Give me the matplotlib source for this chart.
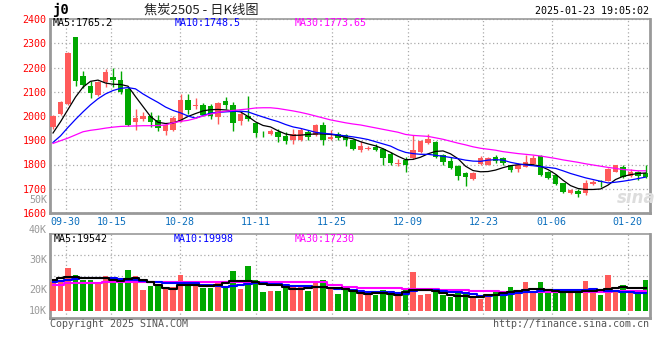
import numpy as np
import matplotlib
matplotlib.use("Agg")
import matplotlib.pyplot as plt
import matplotlib.transforms as mtransforms

# j2505 daily K, 2024-09-26 .. 2025-01-23 (80 trading days)
opens = [1955, 2010, 2050, 2324, 2163, 2122, 2088, 2142, 2162, 2150,
         2112, 1977, 1986, 1998, 1985, 1940, 1943, 1980, 2064, 2040,
         2045, 2042, 1997, 2061, 2047, 1978, 2002, 1972, 1931, 1924,
         1936, 1917, 1902, 1902, 1933, 1923, 1963, 1905, 1927, 1922,
         1899, 1859, 1864, 1873, 1862, 1842, 1804, 1820, 1825, 1852,
         1889, 1893, 1838, 1815, 1794, 1765, 1740, 1804, 1800, 1829,
         1828, 1797, 1780, 1790, 1801, 1834, 1770, 1756, 1722, 1682,
         1690, 1684, 1719, 1733, 1733, 1770, 1790, 1752, 1770, 1763]
closes = [2000, 2057, 2258, 2145, 2128, 2094, 2142, 2180, 2147, 2098,
          1961, 1990, 1998, 1975, 1952, 1962, 1992, 2068, 2026, 2047,
          2003, 1998, 2053, 2044, 1972, 2008, 1987, 1930, 1929, 1938,
          1914, 1897, 1924, 1942, 1914, 1963, 1900, 1912, 1909, 1903,
          1865, 1875, 1866, 1860, 1825, 1806, 1808, 1797, 1859, 1897,
          1907, 1831, 1811, 1786, 1753, 1749, 1765, 1827, 1826, 1814,
          1805, 1778, 1800, 1811, 1827, 1756, 1743, 1720, 1686, 1694,
          1677, 1722, 1728, 1729, 1783, 1797, 1750, 1770, 1752, 1748]
highs = [2003, 2061, 2262, 2326, 2187, 2146, 2145, 2195, 2197, 2184,
         2118, 2030, 2016, 2016, 2006, 1965, 1998, 2090, 2092, 2074,
         2052, 2050, 2057, 2077, 2057, 2015, 2084, 1975, 1940, 1948,
         1946, 1932, 1945, 1950, 1944, 1966, 1975, 1941, 1933, 1926,
         1904, 1897, 1878, 1886, 1866, 1852, 1824, 1829, 1920, 1902,
         1924, 1897, 1842, 1829, 1798, 1770, 1768, 1835, 1829, 1838,
         1831, 1800, 1808, 1838, 1840, 1838, 1772, 1760, 1725, 1697,
         1701, 1735, 1735, 1738, 1786, 1800, 1800, 1780, 1775, 1797]
lows = [1945, 2005, 2045, 2122, 2116, 2075, 2082, 2120, 2120, 2091,
        1958, 1943, 1978, 1955, 1940, 1923, 1940, 1975, 2010, 2030,
        1998, 1986, 1968, 2030, 1938, 1962, 1978, 1913, 1914, 1921,
        1893, 1885, 1886, 1898, 1903, 1918, 1882, 1900, 1900, 1876,
        1859, 1852, 1858, 1856, 1798, 1800, 1793, 1770, 1822, 1848,
        1885, 1826, 1798, 1780, 1735, 1712, 1735, 1800, 1797, 1806,
        1800, 1770, 1770, 1788, 1798, 1752, 1740, 1715, 1683, 1678,
        1667, 1674, 1715, 1708, 1730, 1768, 1745, 1748, 1738, 1745]

ma5 = [1930, 1976, 2027, 2078, 2119, 2143, 2148, 2136, 2131, 2130,
       2123, 2080, 2039, 1998, 1974, 1969, 1971, 1982, 1998, 2010,
       2021, 2026, 2027, 2025, 2021, 2017, 1998, 1976, 1961, 1955,
       1939, 1926, 1920, 1921, 1924, 1926, 1926, 1924, 1920, 1912,
       1906, 1894, 1885, 1877, 1865, 1850, 1834, 1820, 1821, 1830,
       1844, 1854, 1856, 1844, 1824, 1793, 1775, 1770, 1771, 1777,
       1787, 1795, 1799, 1801, 1799, 1793, 1779, 1760, 1735, 1713,
       1701, 1697, 1697, 1699, 1715, 1738, 1751, 1758, 1763, 1765]
ma10 = [1891, 1918, 1953, 1986, 2017, 2046, 2071, 2091, 2105, 2114,
        2117, 2112, 2091, 2073, 2056, 2037, 2023, 2013, 2000, 1991,
        2002, 2012, 2015, 2017, 2019, 2020, 2017, 2006, 1996, 1986,
        1977, 1965, 1955, 1949, 1941, 1933, 1929, 1926, 1922, 1918,
        1914, 1909, 1903, 1894, 1885, 1876, 1861, 1850, 1845, 1842,
        1842, 1838, 1834, 1829, 1824, 1818, 1814, 1813, 1818, 1820,
        1818, 1809, 1803, 1798, 1795, 1791, 1788, 1784, 1774, 1763,
        1754, 1745, 1738, 1731, 1724, 1727, 1731, 1736, 1742, 1748]
ma30 = [1887, 1898, 1909, 1922, 1935, 1941, 1945, 1950, 1954, 1957,
        1958, 1959, 1960, 1960, 1961, 1963, 1972, 1978, 1982, 1990,
        2000, 2008, 2015, 2020, 2023, 2026, 2029, 2033, 2034, 2034,
        2031, 2026, 2021, 2015, 2008, 2000, 1992, 1984, 1978, 1972,
        1967, 1963, 1957, 1951, 1945, 1939, 1933, 1924, 1920, 1918,
        1916, 1910, 1904, 1896, 1888, 1881, 1873, 1867, 1863, 1859,
        1853, 1849, 1845, 1842, 1839, 1835, 1830, 1825, 1819, 1814,
        1809, 1803, 1798, 1793, 1788, 1784, 1779, 1777, 1774, 1774]

# volume, thousand lots
vol = [22.8, 23.3, 27.4, 25.0, 23.3, 23.3, 22.2, 24.7, 22.8, 22.8,
       26.7, 24.7, 20.0, 21.3, 21.3, 20.3, 20.9, 25.0, 21.9, 21.4,
       20.8, 20.8, 23.0, 20.8, 26.3, 20.3, 28.0, 23.3, 19.2, 19.7,
       19.7, 21.4, 21.0, 21.0, 19.7, 22.4, 23.3, 20.3, 18.7, 20.6,
       19.7, 19.7, 18.7, 18.3, 20.0, 19.2, 18.6, 20.3, 26.0, 18.3,
       18.7, 20.0, 18.3, 17.8, 19.2, 19.2, 17.8, 17.0, 17.8, 20.0,
       19.2, 21.0, 19.2, 22.7, 19.2, 22.7, 20.0, 20.0, 20.0, 19.2,
       19.2, 23.0, 19.7, 18.3, 25.0, 20.0, 21.7, 19.4, 19.4, 23.3]
vol_ma5 = [23.3, 23.9, 24.2, 24.2, 23.9, 23.9, 23.9, 24.1, 23.3, 23.0,
           23.6, 23.9, 23.3, 22.8, 21.7, 20.8, 20.2, 21.7, 21.7, 21.7,
           21.4, 21.4, 21.7, 22.2, 23.0, 23.0, 23.0, 22.8, 21.9, 21.7,
           21.7, 21.1, 20.2, 20.2, 20.8, 21.1, 21.1, 20.7, 20.6, 20.3,
           19.8, 19.1, 18.7, 19.1, 19.1, 18.6, 18.3, 19.4, 19.9, 19.9,
           20.0, 19.8, 19.1, 18.3, 18.1, 18.0, 17.8, 17.8, 18.3, 18.3,
           18.9, 19.2, 19.8, 19.9, 20.2, 20.3, 19.9, 19.7, 19.4, 19.2,
           19.4, 19.8, 19.7, 19.9, 20.3, 20.8, 20.9, 20.8, 20.8, 20.8]
vol_ma10 = [22.6, 23.0, 23.2, 23.6, 23.9, 23.9, 23.9, 23.9, 23.9, 23.6,
            23.3, 23.3, 23.0, 22.8, 22.6, 22.2, 22.2, 22.2, 22.2, 22.2,
            21.7, 21.7, 21.4, 21.1, 21.4, 21.7, 21.9, 22.2, 22.2, 22.0,
            21.9, 21.7, 21.4, 21.4, 21.3, 21.1, 21.1, 20.8, 20.3, 20.2,
            20.0, 19.8, 19.4, 19.4, 19.4, 19.4, 18.9, 18.6, 19.7, 19.9,
            20.0, 20.0, 19.7, 19.4, 19.4, 18.9, 18.6, 18.1, 18.1, 18.3,
            18.3, 18.7, 19.0, 19.2, 19.2, 19.7, 20.0, 20.0, 20.0, 20.0,
            20.0, 20.0, 20.2, 19.9, 19.8, 19.7, 19.4, 19.2, 19.0, 18.9]
vol_ma30 = [21.7, 21.7, 22.2, 22.2, 22.2, 22.2, 22.2, 22.7, 22.7, 22.7,
            22.7, 22.7, 22.7, 22.7, 22.7, 22.7, 22.6, 22.6, 22.6, 22.6,
            22.6, 22.6, 22.6, 22.6, 22.6, 22.6, 22.6, 22.6, 22.6, 22.6,
            22.6, 22.6, 22.6, 22.6, 22.6, 22.6, 22.6, 21.7, 21.7, 21.1,
            21.1, 20.8, 20.8, 20.8, 20.8, 20.6, 20.6, 20.2, 20.2, 20.2,
            20.2, 20.2, 20.0, 20.0, 20.0, 20.0, 19.7, 19.7, 19.7, 19.7,
            19.4, 19.4, 19.4, 19.2, 19.2, 19.2, 19.4, 19.4, 19.4, 19.4,
            19.4, 19.4, 19.4, 19.4, 19.4, 19.7, 19.7, 19.7, 19.7, 19.7]

tick_labels = ["09-30", "10-15", "10-28", "11-11", "11-25", "12-09", "12-23", "01-06", "01-20"]
tick_idx = [2, 8, 17, 27, 37, 47, 57, 66, 76]

price_ticks = [1600, 1700, 1800, 1900, 2000, 2100, 2200, 2300, 2400]
vol_label_vals = [50, 40, 30, 20]

UP = "#ff5a5a"
DOWN = "#00a800"
GRID = "#aaaaaa"
FRAME = "#999999"
MONO = "DejaVu Sans Mono"
FS = 7.2

n = len(closes)
x = np.arange(n)
# sina spaces the date marks over n-1 steps instead of n
grid_x = np.array(tick_idx) * n / (n - 1) - 0.33

fig = plt.figure(figsize=(6.6, 3.6), dpi=100)
W, H = 660, 360
ax = fig.add_axes([50 / W, 1 - 213 / H, 599.5 / W, 194 / H])
axv = fig.add_axes([50 / W, 1 - 318 / H, 599.5 / W, 84 / H])

o = np.array(opens); c = np.array(closes)
hi = np.array(highs); lo = np.array(lows)
up = c >= o
cols = np.where(up, UP, DOWN)

# candles
ax.vlines(x, lo, hi, colors=cols, linewidth=1, zorder=3)
body_lo = np.minimum(o, c)
body_h = np.maximum(np.abs(c - o), 1.5)
ax.bar(x, body_h, bottom=body_lo, width=0.78, color=cols, linewidth=0, zorder=4)

ax.plot(x, ma5, color="black", lw=0.9, zorder=5)
ax.plot(x, ma10, color="#0000ff", lw=0.9, zorder=5)
ax.plot(x, ma30, color="#ff00ff", lw=0.9, zorder=5)

xlim = (-0.4, n - 0.47)
ax.set_xlim(*xlim)
ax.set_ylim(1600, 2400)
ax.set_yticks(price_ticks)
ax.set_yticklabels([str(t) for t in price_ticks], color="#ff0000", family=MONO, fontsize=FS)
ax.set_xticks(grid_x)
ax.set_xticklabels(tick_labels, color="#0a6ebd", family=MONO, fontsize=FS)
ax.tick_params(axis="both", length=0)
ax.tick_params(axis="y", pad=2.5)
ax.tick_params(axis="x", pad=3)
ax.grid(True, color=GRID, linestyle=(0, (1, 2)), linewidth=0.9)
ax.set_axisbelow(True)

# volume panel: 20K at 290px, 10K per 30px
vbase = 13.0
axv.set_xlim(*xlim)
axv.set_ylim(10.67, 38.67)
axv.bar(x, np.array(vol) - vbase, bottom=vbase, width=0.76, color=cols, linewidth=0, zorder=3)
axv.plot(x, vol_ma30, color="#ff00ff", lw=1.5, drawstyle="steps-mid", zorder=4)
axv.plot(x, vol_ma10, color="#0000ff", lw=1.5, drawstyle="steps-mid", zorder=5)
axv.plot(x, vol_ma5, color="black", lw=1.5, drawstyle="steps-mid", zorder=6)
axv.set_xticks(grid_x)
axv.set_xticklabels([])
ylo, yhi = axv.get_ylim()
axv.set_yticks([ylo + (yhi - ylo) * k / 4 for k in (1, 2, 3)])
axv.set_yticklabels([])
axv.tick_params(axis="both", length=0)
axv.grid(True, color=GRID, linestyle=(0, (1, 2)), linewidth=0.9)
axv.set_axisbelow(True)

for a in (ax, axv):
    for s in a.spines.values():
        s.set_color(FRAME)
        s.set_linewidth(1.2)
    a.spines["left"].set_linewidth(2)
    a.spines["bottom"].set_linewidth(2)
    a.spines["right"].set_linewidth(2)

# volume labels on the left (they run up into the price panel)
tr = mtransforms.blended_transform_factory(fig.transFigure, axv.transData)
for v in vol_label_vals:
    fig.text(47 / W, v, f"{v}K", transform=tr, ha="right", va="center",
             color="#999999", family=MONO, fontsize=FS)
fig.text(47 / W, 1 - 311 / H, "10K", ha="right", va="center",
         color="#999999", family=MONO, fontsize=FS)

# header
fig.text(52 / W, 1 - 10 / H, "j0", ha="left", va="center", fontsize=10,
         family=MONO, fontweight="bold", color="black")
fig.text(201 / W, 1 - 10 / H, "焦炭2505 - 日K线图", ha="center", va="center",
         fontsize=9.5, family=["Noto Sans CJK SC", "DejaVu Sans"], color="#222222")
fig.text(649 / W, 1 - 11 / H, "2025-01-23 19:05:02", ha="right", va="center",
         family=MONO, fontsize=FS, color="black")

# MA readouts
fig.text(53 / W, 1 - 23 / H, "MA5:1765.2", ha="left", va="center",
         family=MONO, fontsize=FS, color="black")
fig.text(175 / W, 1 - 23 / H, "MA10:1748.5", ha="left", va="center",
         family=MONO, fontsize=FS, color="#0000ff")
fig.text(295 / W, 1 - 23 / H, "MA30:1773.65", ha="left", va="center",
         family=MONO, fontsize=FS, color="#ff00ff")
fig.text(54 / W, 1 - 239 / H, "MA5:19542", ha="left", va="center",
         family=MONO, fontsize=FS, color="black")
fig.text(174 / W, 1 - 239 / H, "MA10:19998", ha="left", va="center",
         family=MONO, fontsize=FS, color="#0000ff")
fig.text(295 / W, 1 - 239 / H, "MA30:17230", ha="left", va="center",
         family=MONO, fontsize=FS, color="#ff00ff")

# footer
fig.text(50 / W, 1 - 324 / H, "Copyright 2025 SINA.COM", ha="left", va="center",
         family=MONO, fontsize=FS, color="#555555")
fig.text(649 / W, 1 - 324 / H, "http://finance.sina.com.cn", ha="right", va="center",
         family=MONO, fontsize=FS, color="#555555")

# faint watermark
fig.text(636 / W, 1 - 198 / H, "sina", ha="center", va="center", fontsize=12,
         fontweight="bold", style="italic", color="#dddddd", zorder=0)

fig.savefig("out.png", dpi=100)
